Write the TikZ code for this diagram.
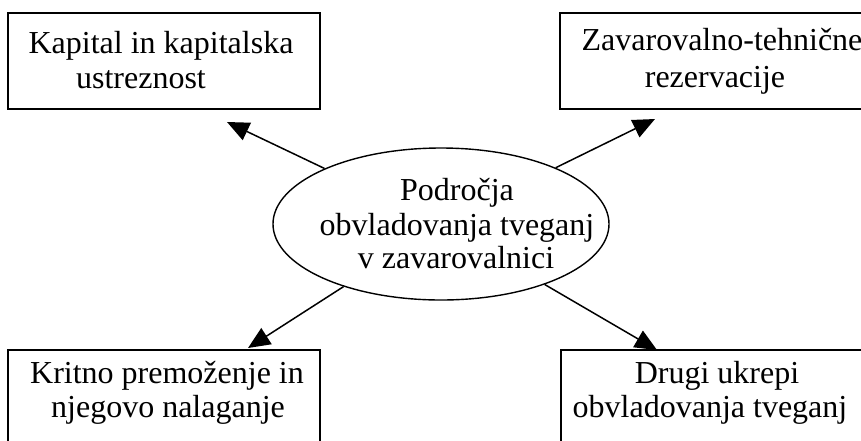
\documentclass[tikz,border=0pt]{standalone}
\usepackage{fontspec}
\setmainfont{Liberation Serif}
\usetikzlibrary{arrows.meta,shapes.geometric}
\begin{document}
\begin{tikzpicture}[x=1pt,y=-1pt,
  box/.style={draw,line width=1.5pt,rectangle,inner sep=0pt},
  txt/.style={font=\fontsize{32}{34}\selectfont,anchor=base,inner sep=0pt},
  arr/.style={line width=1.5pt,-{Triangle[length=22pt,width=19pt]}}]
\useasboundingbox[fill=white] (0,0) rectangle (861,440);
% boxes
\node[box,minimum width=312pt,minimum height=96pt] (tl) at (164,61) {};
\node[box,minimum width=320pt,minimum height=96pt] (tr) at (720,61) {};
\node[box,minimum width=312pt,minimum height=110pt] (bl) at (164,405) {};
\node[box,minimum width=307pt,minimum height=110pt] (br) at (714.5,405) {};
% centre ellipse
\node[draw,ellipse,line width=1.4pt,minimum width=336pt,minimum height=152pt,inner sep=0pt] (e) at (441,224) {};
% texts
\node[txt] (tl1) at (161,53) {Kapital in kapitalska};
\node[txt] (tl2) at (141,88) {ustreznost};
\node[txt] (tr1) at (722,50) {Zavarovalno-tehnične};
\node[txt] (tr2) at (715,87) {rezervacije};
\node[txt] (bl1) at (167,383) {Kritno premoženje in};
\node[txt] (bl2) at (168,417) {njegovo nalaganje};
\node[txt] (br1) at (717,383) {Drugi ukrepi};
\node[txt] (br2) at (710,417) {obvladovanja tveganj};
\node[txt] (e1) at (457,200) {Področja};
\node[txt] (e2) at (457,235) {obvladovanja tveganj};
\node[txt] (e3) at (456,268) {v zavarovalnici};
% arrow tips
\coordinate (ttl) at (227,122);
\coordinate (ttr) at (655,119);
\coordinate (tbl) at (248,348);
\coordinate (tbr) at (657,350);
\draw[arr] (e) -- (ttl);
\draw[arr] (e) -- (ttr);
\draw[arr] (e) -- (tbl);
\draw[arr] (e) -- (tbr);
\end{tikzpicture}
\end{document}
